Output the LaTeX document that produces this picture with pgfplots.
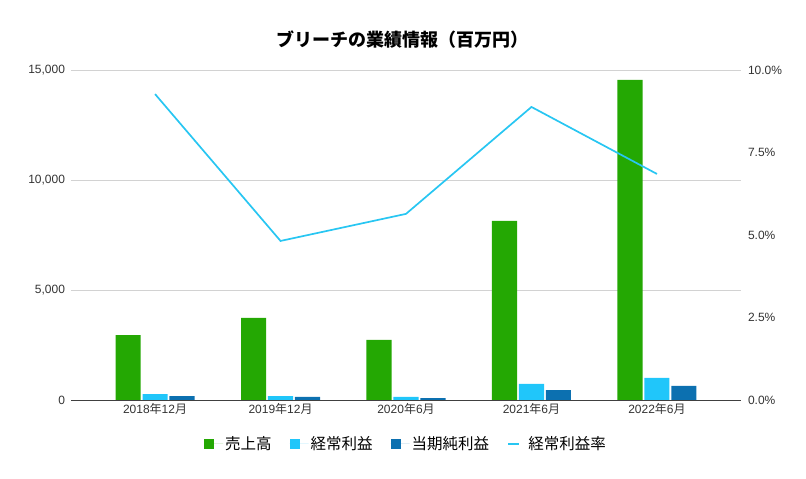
\documentclass[border=0pt]{standalone}
\usepackage{pgfplots}
\pgfplotsset{compat=1.18}
\usepackage{fontspec}
\setmainfont{Liberation Sans}
\newfontfamily\cjk{Noto Sans CJK JP}
\definecolor{salesgreen}{RGB}{36,168,3}
\definecolor{ordcyan}{RGB}{32,198,250}
\definecolor{netblue}{RGB}{12,112,176}
\definecolor{ratecyan}{RGB}{40,198,242}
\definecolor{gridgray}{RGB}{210,210,210}
\pgfplotsset{
    sqlegend/.style={legend image code/.code={\fill[#1] (0pt,-5pt) rectangle (10pt,5pt); \path[draw=none] (0pt,0pt) -- (19pt,0pt);}},
    ratelegend/.style={legend image code/.code={\draw[ratecyan, line width=2.5pt] (0pt,0pt) -- (11pt,0pt); \path[draw=none] (0pt,0pt) -- (18pt,0pt);}},
}

\begin{document}
\begin{tikzpicture}
\path[use as bounding box] (0pt,0pt) rectangle (806pt,479pt);
\node[font=\cjk\bfseries\fontsize{18}{21}\selectfont] at (402pt,439pt) {ブリーチの業績情報（百万円）};

\begin{axis}[
    at={(71pt,79pt)}, anchor=south west, scale only axis,
    width=670pt, height=330pt,
    xmin=-0.67, xmax=4.67, ymin=0, ymax=15000,
    ybar, bar width=0.2,
    axis line style={draw=none},
    major tick length=0pt,
    xtick={0,1,2,3,4},
    xticklabels={2018{\cjk 年}12{\cjk 月}, 2019{\cjk 年}12{\cjk 月}, 2020{\cjk 年}6{\cjk 月}, 2021{\cjk 年}6{\cjk 月}, 2022{\cjk 年}6{\cjk 月}},
    ytick={0,5000,10000,15000},
    ymajorgrids, grid style={gridgray, line width=0.6pt},
    extra y ticks={0}, extra y tick labels={},
    extra y tick style={grid style={black!75, line width=0.9pt}},
    tick label style={font=\fontsize{12}{14}\selectfont, text=black!80},
    yticklabel style={xshift=-2.5pt},
    /pgf/number format/assume math mode=true,
    /pgf/number format/1000 sep={,},
    scaled y ticks=false,
    legend style={at={(0.5,-0.133)}, anchor=center, draw=none,
        legend columns=4, font=\cjk\fontsize{15.5}{17}\selectfont,
        /tikz/every even column/.append style={column sep=16pt}},
    legend cell align=left,
]
\addplot[fill=salesgreen, draw=none, bar shift=-0.215, sqlegend=salesgreen]
    coordinates {(0,2950) (1,3730) (2,2730) (3,8140) (4,14550)};
\addplot[fill=ordcyan, draw=none, bar shift=0, sqlegend=ordcyan]
    coordinates {(0,270) (1,180) (2,140) (3,730) (4,1000)};
\addplot[fill=netblue, draw=none, bar shift=0.215, sqlegend=netblue]
    coordinates {(0,180) (1,140) (2,90) (3,450) (4,640)};
\addlegendimage{ratecyan, ratelegend}
\legend{売上高, 経常利益, 当期純利益, 経常利益率}
\end{axis}

\begin{axis}[
    at={(71pt,79pt)}, anchor=south west, scale only axis,
    width=670pt, height=330pt,
    xmin=-0.67, xmax=4.67, ymin=0, ymax=10,
    axis line style={draw=none},
    axis y line*=right, axis x line=none,
    major tick length=0pt,
    ytick={0,2.5,5,7.5,10},
    yticklabel={\pgfmathprintnumber[fixed,fixed zerofill,precision=1]{\tick}\%},
    yticklabel style={xshift=3.5pt},
    tick label style={font=\fontsize{12}{14}\selectfont, text=black!80},
    /pgf/number format/assume math mode=true,
]
\addplot[ratecyan, line width=1.7pt, mark=none]
    coordinates {(0,9.27) (1,4.82) (2,5.64) (3,8.88) (4,6.85)};
\end{axis}
\end{tikzpicture}
\end{document}
